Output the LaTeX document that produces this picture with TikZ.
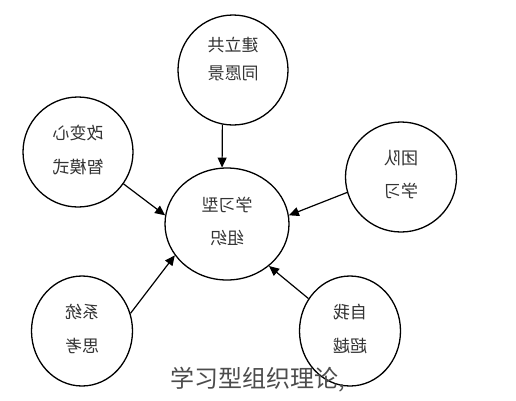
\documentclass[tikz,border=0pt]{standalone}
\usepackage{graphicx}
\usepackage{fontspec}
\setmainfont{Noto Sans CJK SC}
\usetikzlibrary{arrows.meta,shapes.geometric}
\newcommand{\flipped}[3]{\reflectbox{\begin{tabular}{@{}c@{}}#1\\[#2]#3\end{tabular}}}
\begin{document}
\begin{tikzpicture}[x=1pt,y=-1pt,
  disc/.style={draw,line width=1.3pt,ellipse,inner sep=0pt,
    minimum width=110pt,minimum height=110pt,
    font=\fontsize{17}{20}\selectfont,text=black!80},
  feed/.style={-{Triangle[length=10pt,width=9pt]},line width=1.2pt}]
  \fill[white] (0,0) rectangle (516,400);
  \useasboundingbox (0,0) rectangle (516,400);
  \node[disc,label={[yshift=9pt,font=\fontsize{17}{20}\selectfont,text=black!80]center:\flipped{建立共}{8pt}{同愿景}}] (vision) at (233,70) {};
  \node[disc] (mind) at (78,152) {\flipped{改变心}{14pt}{智模式}};
  \node[disc,minimum width=111pt] (team) at (401,177) {\flipped{团队}{13pt}{学习}};
  \node[disc,minimum width=124pt,minimum height=112pt] (core) at (227,224) {\flipped{学习型}{13pt}{组织}};
  \node[disc,minimum width=101pt] (system) at (82,331) {\flipped{系统}{14pt}{思考}};
  \node[disc,minimum width=101pt] (self) at (350,331) {\flipped{自我}{14pt}{超越}};
  \draw[feed] (vision.259) -- (core.95);
  \draw[feed] (mind.325) -- (core.172);
  \draw[feed] (team.196) -- (core.8);
  \draw[feed] (system.20) -- (core.211);
  \draw[feed] (self.142) -- (core.315);
  \node[font=\fontsize{24}{28}\selectfont,text=black!70] (title) at (258,380) {学习型组织理论,};
\end{tikzpicture}
\end{document}
